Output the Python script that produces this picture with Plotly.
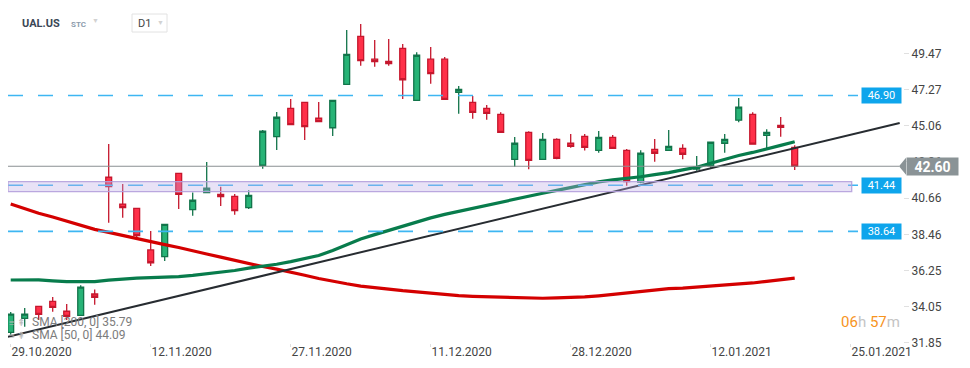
import plotly.graph_objects as go

# ---------------- data ----------------
bar_index = list(range(57))
opens = [32.50, 33.35, 34.08, 34.38, 33.78, 33.53, 34.83, 41.93, 40.30, 40.04,
         37.51, 37.10, 42.17, 39.96, 41.00, 40.89, 40.77, 40.08, 42.66, 44.40,
         46.12, 46.49, 45.52, 44.94, 47.58, 50.50, 49.11, 48.98, 49.77, 46.61,
         49.11, 49.11, 47.10, 46.49, 46.12, 45.76, 43.02, 44.66, 43.02, 44.24,
         44.00, 44.42, 43.57, 44.36, 43.57, 41.64, 43.63, 43.57, 43.69, 42.43,
         42.63, 44.00, 45.40, 45.76, 44.48, 45.09, 43.75]
highs = [33.73, 33.98, 34.10, 34.65, 34.22, 35.36, 35.11, 43.95, 41.52, 40.06,
         38.66, 39.08, 42.18, 41.01, 42.86, 41.36, 40.91, 41.14, 44.80, 45.90,
         46.69, 46.49, 46.51, 46.61, 50.89, 51.25, 50.28, 50.34, 50.04, 49.53,
         49.85, 49.25, 47.48, 46.87, 46.33, 45.88, 44.38, 44.73, 44.62, 44.30,
         44.56, 44.56, 44.74, 44.50, 43.65, 43.57, 44.26, 44.80, 43.94, 43.22,
         44.06, 44.56, 46.75, 45.88, 44.85, 45.60, 43.87]
lows = [32.34, 32.84, 33.25, 33.75, 33.25, 33.50, 34.18, 39.17, 39.47, 38.28,
        36.53, 36.84, 40.00, 39.59, 40.99, 40.18, 39.65, 40.00, 42.45, 43.59,
        45.13, 44.20, 45.31, 44.44, 47.58, 48.72, 48.65, 48.72, 46.69, 46.61,
        47.62, 46.67, 45.80, 45.49, 45.43, 44.66, 42.57, 42.41, 43.02, 43.02,
        43.73, 43.55, 43.42, 43.69, 41.42, 41.56, 42.88, 43.57, 43.02, 42.33,
        42.51, 43.42, 45.27, 43.94, 43.69, 44.40, 42.37]
closes = [33.61, 33.61, 33.59, 34.02, 33.47, 35.25, 34.63, 41.36, 40.08, 38.38,
          36.73, 39.07, 40.89, 40.53, 41.26, 40.75, 39.90, 40.83, 44.73, 45.58,
          45.13, 45.01, 45.31, 46.61, 49.41, 49.02, 48.96, 48.84, 47.86, 49.35,
          48.23, 46.67, 47.28, 45.88, 45.81, 44.66, 44.00, 42.96, 44.24, 43.08,
          43.81, 43.75, 44.36, 43.69, 41.66, 43.39, 43.39, 43.81, 43.33, 42.55,
          44.06, 44.24, 46.19, 43.94, 44.66, 44.97, 42.60]
sma200 = [40.30, 40.01, 39.74, 39.51, 39.27, 39.01, 38.76, 38.58, 38.39, 38.17,
          38.00, 37.83, 37.66, 37.48, 37.26, 37.07, 36.88, 36.65, 36.50, 36.34,
          36.17, 35.97, 35.77, 35.59, 35.45, 35.31, 35.21, 35.10, 35.03, 34.96,
          34.89, 34.78, 34.73, 34.69, 34.66, 34.63, 34.61, 34.59, 34.57, 34.59,
          34.60, 34.65, 34.72, 34.81, 34.92, 35.02, 35.11, 35.16, 35.19, 35.25,
          35.30, 35.36, 35.43, 35.50, 35.60, 35.71, 35.79]
sma50 = [35.68, 35.70, 35.69, 35.63, 35.58, 35.58, 35.58, 35.67, 35.74, 35.79,
         35.82, 35.84, 35.89, 35.96, 36.05, 36.15, 36.26, 36.40, 36.50, 36.64,
         36.80, 36.98, 37.17, 37.47, 37.82, 38.18, 38.44, 38.69, 38.97, 39.23,
         39.46, 39.67, 39.86, 40.04, 40.25, 40.43, 40.60, 40.77, 40.96, 41.13,
         41.31, 41.49, 41.65, 41.77, 41.85, 41.96, 42.09, 42.21, 42.38, 42.54,
         42.78, 43.03, 43.25, 43.44, 43.64, 43.87, 44.09]
trend_x = [-0.2, 63.5]
trend_y = [32.22, 45.23]
level_values = [46.90, 41.44, 38.64]
band_range = [41.05, 41.66]
last_price = 42.60
date_tick_index = [0, 10, 20, 30, 40, 50, 60]
date_tick_labels = ["29.10.2020", "12.11.2020", "27.11.2020", "11.12.2020",
                    "28.12.2020", "12.01.2021", "25.01.2021"]
price_ticks = [49.47, 47.27, 45.06, 42.86, 40.66, 38.46, 36.25, 34.05, 31.85]

FONT = "Roboto"
GREEN_FILL, GREEN_LINE = "#27b376", "#12744a"
RED_FILL, RED_LINE = "#ff3049", "#c5172d"
BLUE = "#0ea5ec"

# page is offset by the browser's 8px body margin
OFF = 8
FIG_W, FIG_H = 970 - OFF, 368 - OFF
PLOT_L, PLOT_R, PLOT_T, PLOT_B = 8, 903, 8, 343   # page px
PW = PLOT_R - PLOT_L
PH = PLOT_B - PLOT_T


def pxx(x):
    return (x - PLOT_L) / PW


def pxy(y):
    return (PLOT_B - y) / PH


fig = go.Figure()
fig.add_trace(go.Candlestick(
    x=bar_index, open=opens, high=highs, low=lows, close=closes,
    increasing=dict(fillcolor=GREEN_FILL, line=dict(color=GREEN_LINE, width=1.3)),
    decreasing=dict(fillcolor=RED_FILL, line=dict(color=RED_LINE, width=1.3)),
    showlegend=False, hoverinfo="skip"))
fig.add_trace(go.Scatter(x=bar_index, y=sma200, mode="lines",
                         line=dict(color="#d40000", width=3.2), showlegend=False))
fig.add_trace(go.Scatter(x=bar_index, y=sma50, mode="lines",
                         line=dict(color="#087c4c", width=3.2), showlegend=False))
fig.add_trace(go.Scatter(x=trend_x, y=trend_y, mode="lines",
                         line=dict(color="#272c31", width=2), showlegend=False))

shapes = []
shapes.append(dict(type="line", xref="paper", x0=0, x1=pxx(899), yref="y",
                   y0=last_price, y1=last_price, line=dict(color="#8a8f92", width=1.2),
                   layer="above"))
for v in level_values:
    shapes.append(dict(type="line", xref="paper", x0=0, x1=pxx(858), yref="y",
                       y0=v, y1=v, line=dict(color="#3db6f2", width=1.6, dash="15px,15px"),
                       layer="above"))
shapes.append(dict(type="rect", xref="paper", x0=0, x1=pxx(851.7), yref="y",
                   y0=band_range[0], y1=band_range[1],
                   fillcolor="rgba(190,172,230,0.35)",
                   line=dict(color="rgba(180,160,220,0.9)", width=1.3), layer="above"))
shapes.append(dict(type="path", xref="paper", yref="y",
                   path=f"M {pxx(899)},{last_price} L {pxx(906)},{last_price+0.52} L {pxx(906)},{last_price-0.52} Z",
                   fillcolor="#8a9396", line=dict(width=0), layer="above"))
shapes.append(dict(type="rect", xref="paper", yref="paper",
                   x0=pxx(132), x1=pxx(167), y0=pxy(32), y1=pxy(14),
                   line=dict(color="#e2e2e2", width=1), fillcolor="white"))

annotations = []
for v in level_values:
    annotations.append(dict(xref="paper", x=pxx(901.7), xanchor="right", yref="y", y=v,
                            text=f"{v:.2f}", showarrow=False, bgcolor=BLUE,
                            font=dict(family=FONT, size=11, color="white"),
                            borderpad=1, width=37, height=13))
annotations.append(dict(xref="paper", x=pxx(906), xanchor="left", yref="y", y=last_price,
                        text=f"<b>{last_price:.2f}</b>", showarrow=False, bgcolor="#8a9396",
                        font=dict(family=FONT, size=14, color="white"),
                        borderpad=0, width=51, height=17))


def txt(x, y, text, size, color, anchor="left", bold=False):
    t = f"<b>{text}</b>" if bold else text
    annotations.append(dict(xref="paper", yref="paper", x=pxx(x), y=pxy(y),
                            xanchor=anchor, yanchor="middle", text=t, showarrow=False,
                            font=dict(family=FONT, size=size, color=color)))


txt(20, 23, "UAL.US", 11, "#3b4756", bold=True)
txt(69, 24, "STC", 8, "#8d9cad", bold=True)
txt(90, 21, "▼", 7, "#d2d2d2")
txt(136, 23, "D1", 11, "#444")
txt(155, 23, "▼", 7, "#d2d2d2")
txt(7, 322, "≡ ⇞", 10, "#b8b8b8")
txt(7, 335, "≡ ⇞", 10, "#b8b8b8")
txt(30, 322, "SMA [200, 0] 35.79", 12, "#7c7c7c")
txt(30, 335, "SMA [50, 0] 44.09", 12, "#7c7c7c")
annotations.append(dict(xref="paper", yref="paper", x=pxx(902), y=pxy(322),
                        xanchor="right", yanchor="middle", showarrow=False,
                        text="<span style='color:#f7941e'>06</span><span style='color:#c4c4c4'>h</span> "
                             "<span style='color:#f7941e'>57</span><span style='color:#c4c4c4'>m</span>",
                        font=dict(family=FONT, size=15)))

x_lo = (PLOT_L - 10.7) / 14.0
x_hi = (PLOT_R - 10.7) / 14.0
y_hi = 49.47 + (53.3 - PLOT_T) / 16.44
y_lo = 49.47 - (PLOT_B - 53.3) / 16.44

fig.update_layout(
    width=FIG_W, height=FIG_H,
    margin=dict(l=PLOT_L - OFF, r=FIG_W - (PLOT_R - OFF), t=PLOT_T - OFF,
                b=FIG_H - (PLOT_B - OFF)),
    paper_bgcolor="white", plot_bgcolor="white",
    showlegend=False, boxgap=0.4,
    shapes=shapes, annotations=annotations,
    xaxis=dict(range=[x_lo, x_hi], tickvals=date_tick_index, ticktext=date_tick_labels,
               showgrid=False, zeroline=False, showline=False, ticks="outside", ticklen=3,
               tickcolor="#e0e0e0", ticklabelshift=31, ticklabelstandoff=-5,
               tickfont=dict(family=FONT, size=12, color="#444"),
               rangeslider=dict(visible=False), fixedrange=True),
    yaxis=dict(range=[y_lo, y_hi], side="right", tickvals=price_ticks,
               ticktext=[f"{v:.2f}" for v in price_ticks],
               showgrid=False, zeroline=False, showline=False, ticks="outside", ticklen=5,
               tickcolor="#e0e0e0", tickfont=dict(family=FONT, size=12, color="#444"),
               fixedrange=True),
)

fig.write_html("out.html")
